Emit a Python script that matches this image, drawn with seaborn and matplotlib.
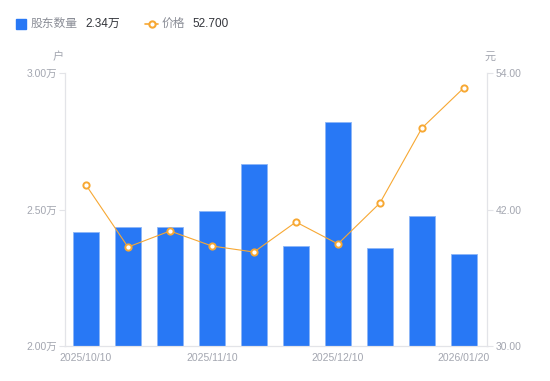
import matplotlib
matplotlib.use("Agg")
import matplotlib.pyplot as plt
import seaborn as sns
import pandas as pd
from matplotlib.lines import Line2D
from matplotlib.ticker import FuncFormatter

dates = ["2025/10/10", "2025/10/20", "2025/10/31", "2025/11/10", "2025/11/20",
         "2025/11/28", "2025/12/10", "2025/12/20", "2025/12/31", "2026/01/20"]
holders = [2.418, 2.436, 2.436, 2.495, 2.667, 2.366, 2.820, 2.359, 2.476, 2.337]  # 万户
price = [44.15, 38.70, 40.11, 38.79, 38.26, 40.90, 38.97, 42.57, 49.16, 52.70]
tick_idx = [0, 3, 6, 9]

sns.set_theme(style="white")
plt.rcParams['font.family'] = ['Liberation Sans', 'Noto Sans CJK SC', 'DejaVu Sans']

BLUE = "#2878F5"
ORANGE = "#F7A833"
GREY = "#A3A6B0"
AXIS = "#E3E4E8"

df = pd.DataFrame({"date": dates, "holders": holders, "price": price,
                   "idx": list(range(len(dates)))})

fig = plt.figure(figsize=(5.5, 3.81), dpi=100)
ax = fig.add_axes([65/550, 35/381, 422/550, 273/381])

sns.barplot(data=df, x="idx", y="holders", ax=ax, color=BLUE, width=0.6,
            saturation=1, edgecolor="#8DB6F7", linewidth=0.6, order=df["idx"])
ax.set_ylim(2.0, 3.0)
ax.set_xlim(-0.5, 9.55)
ax.set_yticks([2.0, 2.5, 3.0])
ax.yaxis.set_major_formatter(FuncFormatter(lambda v, p: f"{v:.2f}万"))
ax.set_xticks(tick_idx)
ax.set_xticklabels([dates[i] for i in tick_idx])
ax.set_xlabel("")
ax.set_ylabel("")

ax2 = ax.twinx()
sns.lineplot(data=df, x="idx", y="price", ax=ax2, color=ORANGE, linewidth=0.8,
             marker="o", markersize=4.5, markerfacecolor="white",
             markeredgecolor=ORANGE, markeredgewidth=1.4)
ax2.set_ylim(30, 54)
ax2.set_yticks([30, 42, 54])
ax2.yaxis.set_major_formatter(FuncFormatter(lambda v, p: f"{v:.2f}"))
ax2.set_xlim(-0.5, 9.55)
ax2.set_ylabel("")
ax2.set_xlabel("")

for a in (ax, ax2):
    for s in a.spines.values():
        s.set_color(AXIS)
        s.set_linewidth(0.8)
    a.spines["top"].set_visible(False)
    a.grid(False)

ax.tick_params(axis="x", length=0, labelsize=7.5, colors=GREY, pad=5)
ax.tick_params(axis="y", left=True, length=4, width=0.8, color=AXIS,
               labelsize=7.5, labelcolor=GREY, pad=2)
ax2.tick_params(axis="y", right=True, length=4, width=0.8, color=AXIS,
                labelsize=7.5, labelcolor=GREY, pad=2)
for lbl in ax.get_xticklabels():
    lbl.set_color(GREY)

fig.text(58/550, 1 - 57/381, "户", ha="center", va="center", fontsize=8, color=GREY)
fig.text(490/550, 1 - 57/381, "元", ha="center", va="center", fontsize=8, color=GREY)

# legend
ly = 1 - 24/381
fig.add_artist(Line2D([21/550], [ly], marker="s", markersize=6.5, color=BLUE,
                      linestyle="none", transform=fig.transFigure))
fig.text(31/550, ly, "股东数量", ha="left", va="center", fontsize=8.5, color="#8A8D96")
fig.text(85/550, ly, "2.34万", ha="left", va="center", fontsize=8.5, color="#33353B")
fig.add_artist(Line2D([145/550, 158/550], [ly, ly], color=ORANGE, linewidth=1.2,
                      transform=fig.transFigure))
fig.add_artist(Line2D([151.5/550], [ly], marker="o", markersize=4.5,
                      markerfacecolor="white", markeredgecolor=ORANGE,
                      markeredgewidth=1.5, linestyle="none", transform=fig.transFigure))
fig.text(162/550, ly, "价格", ha="left", va="center", fontsize=8.5, color="#8A8D96")
fig.text(192/550, ly, "52.700", ha="left", va="center", fontsize=8.5, color="#33353B")

fig.savefig("out.png", dpi=100)
